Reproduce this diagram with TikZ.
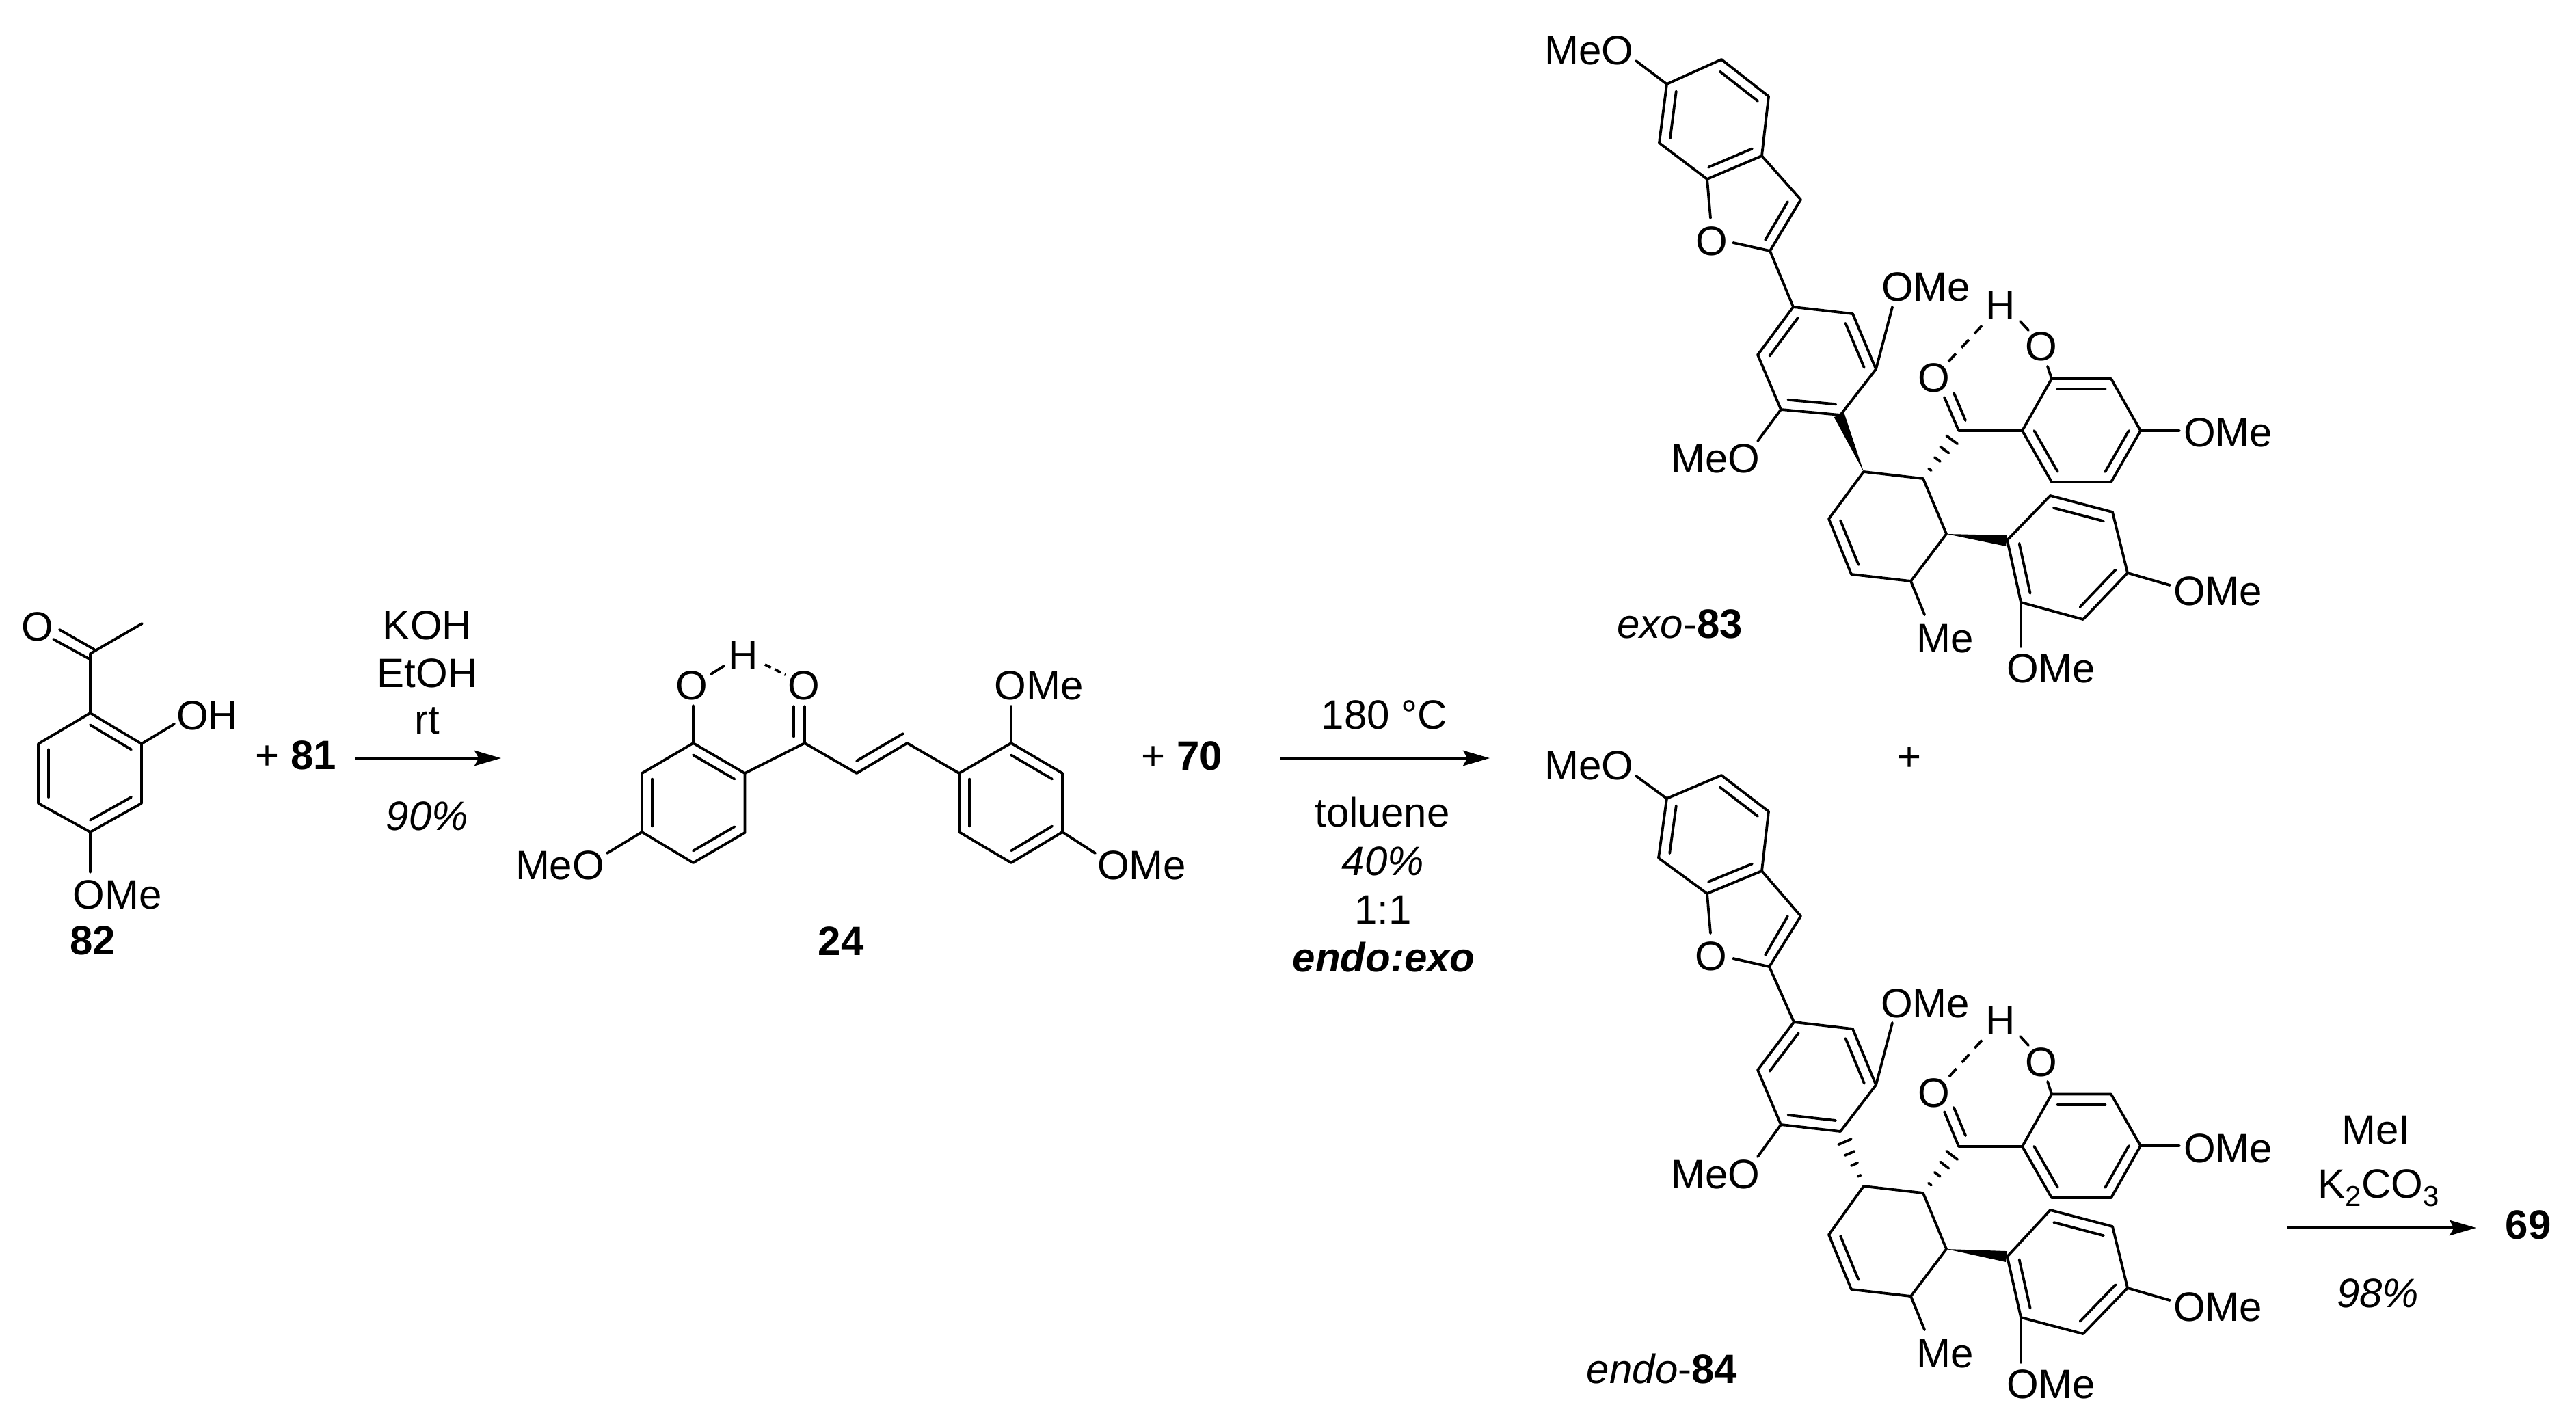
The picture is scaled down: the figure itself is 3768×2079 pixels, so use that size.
\documentclass[tikz,border=0pt]{standalone}
\usepackage{fontspec}
\setmainfont{Liberation Sans}
\usetikzlibrary{calc,arrows.meta}
\tikzset{
  bond/.style={line width=0.95pt,line cap=round,line join=round},
  hbond/.style={line width=0.95pt,line cap=butt,dash pattern=on 4pt off 3pt},
  hbondshort/.style={line width=0.95pt,line cap=butt,dash pattern=on 2.4pt off 1.6pt},
  rxn/.style={line width=1pt,-{Stealth[length=9.75pt,width=5.6pt,inset=1.6pt]}},
  txt/.style={inner sep=0pt,outer sep=0pt,anchor=base,font=\fontsize{15}{18}\selectfont}
}
\newcommand\inb[3]{\draw[bond] ($(#1)!.2!(#3)$) -- ($(#2)!.2!(#3)$);}
\newcommand\hashb[2]{\foreach \t/\w in {.19/.6pt,.4/1.25pt,.6/1.9pt,.81/2.5pt}{%
  \coordinate (hp) at ($(#1)!\t!(#2)$);
  \draw[bond] ($(hp)!\w!90:(#2)$) -- ($(hp)!\w!-90:(#2)$);}}
\newcommand\wedgeb[2]{\fill[black] (#1) -- ($(#2)!2pt!90:(#1)$) -- ($(#2)!2pt!-90:(#1)$) -- cycle;}
\newcommand\pts[1]{\foreach \n/\xx/\yy in {#1}{\coordinate (\n) at (\xx,\yy);}}
\begin{document}
\begin{tikzpicture}[x=0.25pt,y=-0.25pt]
\useasboundingbox (0,0) rectangle (3768,2079);
% ---------- 82
\pts{ka/132/956,kb/208/912,kc/132/1043,kd/207/1088,ke/207/1175,kf/132/1217,kg/56/1175,kh/56/1088,kcen/132/1130,
 kp1/87/921,kp2/138/950,kp3/78/935,kp4/131/964,kq/255/1059,kr/132/1276}
\draw[bond] (kb)--(ka)--(kc);
\draw[bond] (kc)--(kd)--(ke)--(kf)--(kg)--(kh)--cycle;
\draw[bond] (kp1)--(kp2) (kp3)--(kp4) (kd)--(kq) (kf)--(kr);
\inb{kc}{kd}{kcen}\inb{ke}{kf}{kcen}\inb{kg}{kh}{kcen}
\node[txt] (k1) at (55,937) {O};
\node[txt] (k2) at (303,1067) {OH};
\node[txt] (k3) at (172,1329) {OMe};
\node[txt] (k4) at (136,1396) {\bfseries 82};
\node[txt] (p1) at (433,1125) {+ \bfseries 81};
% arrow 1
\pts{a1s/520/1109,a1e/733/1109}
\draw[rxn] (a1s)--(a1e);
\node[txt] (r1) at (625,935) {KOH};
\node[txt] (r2) at (625,1005) {EtOH};
\node[txt] (r3) at (625,1073) {rt};
\node[txt] (r4) at (625,1214) {\itshape 90\%};
% ---------- 24
\pts{ca/1014/1087,cb/1089.5/1131,cc/1089.5/1218,cd/1014/1262,ce/939/1217,cf/939/1131,ccen/1014/1174,
 cg/1177/1087,ch/1253/1131,ci/1327/1087,
 da/1403/1131,db/1479/1087,dc/1554/1131,dd/1554/1217,de/1479/1262,df/1403/1217,dcen/1479/1174,
 cp1/1014/1032,cp2/1040/986,cp3/1059/974,cp4/1119/972,cp5/1149/987,cp6/1177/1033,cp7/1161/1078,cp8/1161/1033,
 cp9/1253/1113,cp10/1321/1073,cp11/1479/1033,cp12/1602/1248,cp13/888/1248}
\draw[bond] (ca)--(cb)--(cc)--(cd)--(ce)--(cf)--cycle;
\draw[bond] (cb)--(cg)--(ch)--(ci)--(da);
\draw[bond] (da)--(db)--(dc)--(dd)--(de)--(df)--cycle;
\draw[bond] (ca)--(cp1) (cp2)--(cp3) (cg)--(cp6) (cp7)--(cp8) (cp9)--(cp10) (db)--(cp11) (dd)--(cp12) (ce)--(cp13);
\draw[hbondshort] (cp4)--(cp5);
\inb{ca}{cb}{ccen}\inb{cc}{cd}{ccen}\inb{ce}{cf}{ccen}
\inb{db}{dc}{dcen}\inb{dd}{de}{dcen}\inb{df}{da}{dcen}
\node[txt] (c1) at (1012,1023) {O};
\node[txt] (c2) at (1087,979) {H};
\node[txt] (c3) at (1176,1023) {O};
\node[txt] (c4) at (1519.5,1023) {OMe};
\node[txt] (c5) at (1670,1286) {OMe};
\node[txt] (c6) at (819,1286) {MeO};
\node[txt] (c7) at (1230,1397) {\bfseries 24};
\node[txt] (p2) at (1729,1126) {+ \bfseries 70};
% arrow 2
\pts{a2s/1872/1109,a2e/2179/1109}
\draw[rxn] (a2s)--(a2e);
\node[txt] (s1) at (2025,1066) {180 °C};
\node[txt] (s2) at (2022,1209) {toluene};
\node[txt] (s3) at (2023,1280) {\itshape 40\%};
\node[txt] (s4) at (2023,1351) {1:1};
\node[txt] (s5) at (2024,1421) {\bfseries\itshape endo:exo};
% ---------- exo-83
\pts{xA/2438/123,xB/2518/87,xC/2587/141,xD/2577/228,xE/2497/262,xF/2427/209,xcenA/2507/175,
 xG/2634/292,xH/2589/367,xJ/2623/449,xK/2710/459,xL/2744/540,xM/2692/607,xN/2605/599,xP/2571/519,xcenB/2657.5/528,
 xQ/2726/690,xR/2813/700,xS/2847/781,xT/2795/850,xU/2708/840,xV/2675/759,xcenC/2760/770,
 xW/2865/630,xa/3001/554,xb/3088/554,xc/3131/630,xd/3088/705,xe/3001/705,xf/2958/630,xcenD/3045/630,
 xg/2936/790,xh/2999/725,xi/3090/749,xj/3112/838,xk/3047/906,xl/2956/881,xcenE/3024/815,
 xp1/2393/89,xp2/2535/355,xp3/2502/319,xp4/2615/295,xp5/2582/351,xp6/2768/449,xp7/2571/645,
 xp8/2844/581,xp9/2875/615,xp10/2858/575,xp11/2850/529,xp12/2903/472,xp13/2955/470,xp14/2967/483,xp15/2995/536,
 xp16/3188/630,xp17/3174/856,xp18/2956/946,xp19/2815/899,xMw/2690/607,xgw/2935/791}
\draw[bond] (xA)--(xB)--(xC)--(xD)--(xE)--(xF)--cycle;
\draw[bond] (xD)--(xG)--(xH)--(xp2) (xE)--(xp3) (xp4)--(xp5) (xH)--(xJ) (xA)--(xp1);
\draw[bond] (xJ)--(xK)--(xL)--(xM)--(xN)--(xP)--cycle;
\draw[bond] (xL)--(xp6) (xN)--(xp7);
\draw[bond] (xQ)--(xR)--(xS)--(xT)--(xU)--(xV)--cycle;
\draw[bond] (xp8)--(xW)--(xf) (xp9)--(xp10) (xp13)--(xp14) (xp15)--(xa);
\draw[hbond] (xp11)--(xp12);
\draw[bond] (xa)--(xb)--(xc)--(xd)--(xe)--(xf)--cycle;
\draw[bond] (xc)--(xp16) (xj)--(xp17) (xl)--(xp18) (xT)--(xp19);
\draw[bond] (xg)--(xh)--(xi)--(xj)--(xk)--(xl)--cycle;
\inb{xA}{xF}{xcenA}\inb{xB}{xC}{xcenA}\inb{xD}{xE}{xcenA}
\inb{xJ}{xP}{xcenB}\inb{xK}{xL}{xcenB}\inb{xM}{xN}{xcenB}
\inb{xU}{xV}{xcenC}
\inb{xa}{xb}{xcenD}\inb{xc}{xd}{xcenD}\inb{xe}{xf}{xcenD}
\inb{xh}{xi}{xcenE}\inb{xj}{xk}{xcenE}\inb{xl}{xg}{xcenE}
\wedgeb{xQ}{xMw}\wedgeb{xS}{xgw}\hashb{xR}{xW}
\node[txt] (x1) at (2324,94) {MeO};
\node[txt] (x2) at (2504,373) {O};
\node[txt] (x3) at (2817,440) {OMe};
\node[txt] (x4) at (2509,691) {MeO};
\node[txt] (x5) at (2829,573) {O};
\node[txt] (x6) at (2926,467) {H};
\node[txt] (x7) at (2986,527) {O};
\node[txt] (x8) at (3259,653) {OMe};
\node[txt] (x9) at (3244,885) {OMe};
\node[txt] (x10) at (3000,998) {OMe};
\node[txt] (x11) at (2845,954) {Me};
\node[txt] (x12) at (2457,933) {\itshape exo\upshape-\bfseries 83};
\node[txt] (p3) at (2793,1127) {+};
% ---------- endo-84
\pts{nA/2438/1168,nB/2518/1134,nC/2587/1187,nD/2577/1274,nE/2497/1307,nF/2426/1255,ncenA/2507/1221,
 nG/2634/1340,nH/2588/1414,nJ/2624/1495,nK/2710/1505,nL/2744/1587,nM/2692/1655,nN/2605/1645,nP/2571/1565,ncenB/2658/1575,
 nQ/2726/1735,nR/2813/1745,nS/2847/1827,nT/2795/1896,nU/2708/1886,nV/2675/1806,ncenC/2760/1815,
 nW/2865/1677,na/3001/1600.5,nb/3088/1600.5,nc/3131/1676,nd/3088/1752,ne/3001/1752,nf/2958/1677,ncenD/3045/1676,
 ng/2936/1838,nh/2999/1770,ni/3090/1794,nj/3112/1884,nk/3047/1951,nl/2956/1927,ncenE/3024/1860,
 np1/2393/1135,np2/2535/1402,np3/2502/1365,np4/2615/1340,np5/2582/1397,np6/2768/1496,np7/2571/1692,
 np8/2844/1626,np9/2875/1661,np10/2858/1620,np11/2851/1575,np12/2903/1517,np13/2955/1516,np14/2967/1529,np15/2995/1582,
 np16/3188/1676,np17/3174/1902,np18/2956/1993,np19/2815/1945,ngw/2935/1838}
\draw[bond] (nA)--(nB)--(nC)--(nD)--(nE)--(nF)--cycle;
\draw[bond] (nD)--(nG)--(nH)--(np2) (nE)--(np3) (np4)--(np5) (nH)--(nJ) (nA)--(np1);
\draw[bond] (nJ)--(nK)--(nL)--(nM)--(nN)--(nP)--cycle;
\draw[bond] (nL)--(np6) (nN)--(np7);
\draw[bond] (nQ)--(nR)--(nS)--(nT)--(nU)--(nV)--cycle;
\draw[bond] (np8)--(nW)--(nf) (np9)--(np10) (np13)--(np14) (np15)--(na);
\draw[hbond] (np11)--(np12);
\draw[bond] (na)--(nb)--(nc)--(nd)--(ne)--(nf)--cycle;
\draw[bond] (nc)--(np16) (nj)--(np17) (nl)--(np18) (nT)--(np19);
\draw[bond] (ng)--(nh)--(ni)--(nj)--(nk)--(nl)--cycle;
\inb{nA}{nF}{ncenA}\inb{nB}{nC}{ncenA}\inb{nD}{nE}{ncenA}
\inb{nJ}{nP}{ncenB}\inb{nK}{nL}{ncenB}\inb{nM}{nN}{ncenB}
\inb{nU}{nV}{ncenC}
\inb{na}{nb}{ncenD}\inb{nc}{nd}{ncenD}\inb{ne}{nf}{ncenD}
\inb{nh}{ni}{ncenE}\inb{nj}{nk}{ncenE}\inb{nl}{ng}{ncenE}
\wedgeb{nS}{ngw}\hashb{nQ}{nM}\hashb{nR}{nW}
\node[txt] (n1) at (2324,1140) {MeO};
\node[txt] (n2) at (2503,1419) {O};
\node[txt] (n3) at (2816,1488) {OMe};
\node[txt] (n4) at (2509,1738) {MeO};
\node[txt] (n5) at (2829,1619) {O};
\node[txt] (n6) at (2926,1513) {H};
\node[txt] (n7) at (2986,1574) {O};
\node[txt] (n8) at (3259,1700) {OMe};
\node[txt] (n9) at (3244,1932) {OMe};
\node[txt] (n10) at (3000,2045) {OMe};
\node[txt] (n11) at (2845,2000) {Me};
\node[txt] (n12) at (2431,2023) {\itshape endo\upshape-\bfseries 84};
% arrow 3
\pts{a3s/3345/1796,a3e/3622/1796}
\draw[rxn] (a3s)--(a3e);
\node[txt] (t1) at (3475,1673) {MeI};
\node[txt] (t2) at (3479,1752) {K\raisebox{-3pt}{\fontsize{10.5}{12}\selectfont 2}CO\raisebox{-3pt}{\fontsize{10.5}{12}\selectfont 3}};
\node[txt] (t3) at (3478,1912) {\itshape 98\%};
\node[txt] (t4) at (3698,1812) {\bfseries 69};
\end{tikzpicture}
\end{document}
